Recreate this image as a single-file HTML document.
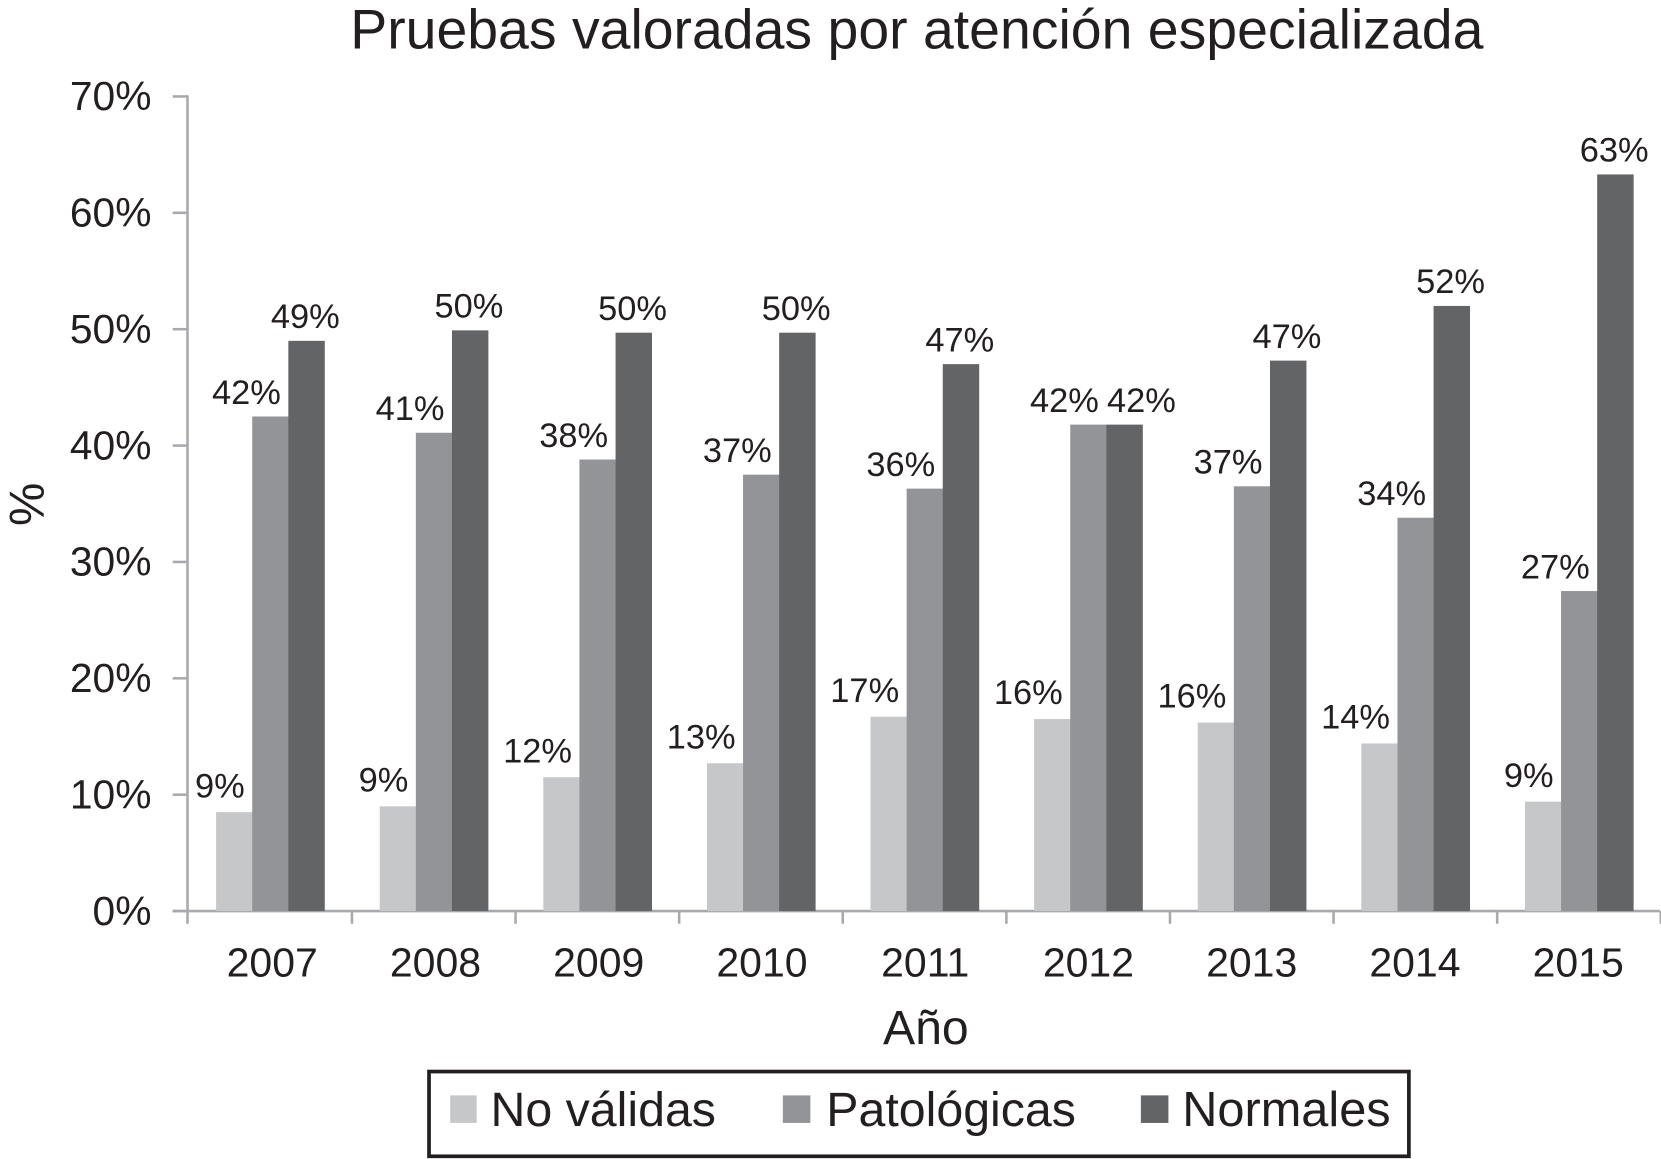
<!DOCTYPE html>
<html lang="es">
<head>
<meta charset="utf-8">
<title>Pruebas valoradas por atención especializada</title>
<style>
  html, body { margin: 0; padding: 0; background: #fff; }
  svg { display: block; }
  text { font-family: "Liberation Sans", Arial, sans-serif; fill: #231f20; }
</style>
</head>
<body>
<svg id="chart" xmlns="http://www.w3.org/2000/svg" width="1661" height="1159" viewBox="0 0 1568 1094">
  <text x="865.5" y="45.5" font-size="52.3" text-anchor="middle">Pruebas valoradas por atención especializada</text>
  <text transform="translate(41 476) rotate(-90)" font-size="46" text-anchor="middle">%</text>
  <text x="874" y="985.5" font-size="45.5" text-anchor="middle">Año</text>
  <g id="axes"></g>
  <g id="bars"></g>
  <g id="labels"></g>
  <g>
    <rect x="405" y="1011.5" width="925" height="80" fill="#fff" stroke="#231f20" stroke-width="3.5"/>
    <rect x="425" y="1034" width="25" height="26" fill="#c5c7c9"/>
    <text x="463" y="1063" font-size="45.6">No válidas</text>
    <rect x="739" y="1034" width="26" height="26" fill="#929497"/>
    <text x="780" y="1063" font-size="45.6">Patológicas</text>
    <rect x="1077" y="1034" width="26" height="26" fill="#636466"/>
    <text x="1116" y="1063" font-size="46">Normales</text>
  </g>
</svg>
<script>
const years = ['2007', '2008', '2009', '2010', '2011', '2012', '2013', '2014', '2015'];
const yTicks = [0, 10, 20, 30, 40, 50, 60, 70];
const noValidas = [8.5, 9.0, 11.5, 12.7, 16.7, 16.5, 16.2, 14.4, 9.4];
const patologicas = [42.5, 41.1, 38.8, 37.5, 36.3, 41.8, 36.5, 33.8, 27.5];
const normales = [49.0, 49.9, 49.7, 49.7, 47.0, 41.8, 47.3, 52.0, 63.3];
const noValidasLabels = ['9%', '9%', '12%', '13%', '17%', '16%', '16%', '14%', '9%'];
const patologicasLabels = ['42%', '41%', '38%', '37%', '36%', '42%', '37%', '34%', '27%'];
const normalesLabels = ['49%', '50%', '50%', '50%', '47%', '42%', '47%', '52%', '63%'];

const NS = 'http://www.w3.org/2000/svg';
const plotLeft = 177, plotRight = 1567, plotBase = 860, plotTop = 91, yMax = 70;
const band = (plotRight - plotLeft) / years.length;
const barWidth = 34.1, barInset = 27.0;
const yearLabelStart = 257, yearLabelStep = 154.1;

function yScale(v) { return plotBase - (v / yMax) * (plotBase - plotTop); }
function xBand(i) { return plotLeft + i * band; }
function xBar(i, s) { return xBand(i) + barInset + s * barWidth; }

function make(parent, tag, attrs) {
  const el = document.createElementNS(NS, tag);
  for (const k in attrs) el.setAttribute(k, attrs[k]);
  parent.appendChild(el);
  return el;
}

const axes = document.getElementById('axes');
const barsG = document.getElementById('bars');
const labelsG = document.getElementById('labels');
const axisStyle = { stroke: '#a7a9ac', 'stroke-width': 2.4, fill: 'none' };

const yAxis = make(axes, 'line', Object.assign({ x1: plotLeft, x2: plotLeft, y1: plotTop - 1, y2: plotBase + 12 }, axisStyle));


const xAxis = make(axes, 'line', Object.assign({ x1: plotLeft - 14, x2: plotRight, y1: plotBase, y2: plotBase }, axisStyle));



yTicks.forEach(function (t) {
  const y = yScale(t);
  const tick = make(axes, 'line', Object.assign({ x1: plotLeft - 14, x2: plotLeft, y1: y, y2: y }, axisStyle));
  
  
  const lab = make(axes, 'text', { x: 143, y: y + 13, 'font-size': 38.5, 'text-anchor': 'end' });
  
  
  lab.textContent = t + '%';
});

years.forEach(function (yr, i) {
  const tick = make(axes, 'line', Object.assign({ x1: xBand(i + 1) + 0.8, x2: xBand(i + 1) + 0.8, y1: plotBase, y2: plotBase + 12 }, axisStyle));
  
  
  const lab = make(axes, 'text', { x: yearLabelStart + i * yearLabelStep, y: 922, 'font-size': 38.7, 'text-anchor': 'middle' });
  
  
  lab.textContent = yr;
});

const seriesValues = [noValidas, patologicas, normales];
const seriesLabels = [noValidasLabels, patologicasLabels, normalesLabels];
const seriesColors = ['#c5c7c9', '#929497', '#636466'];
const seriesKeys = ['no-validas', 'patologicas', 'normales'];

seriesValues.forEach(function (vals, s) {
  vals.forEach(function (v, i) {
    const top = yScale(v);
    const bar = make(barsG, 'rect', { x: xBar(i, s), y: top, width: barWidth + 0.3, height: plotBase - top, fill: seriesColors[s] });
    
    

    const center = xBar(i, s) + barWidth / 2;
    const attrs = { 'font-size': 32.5 };
    if (s === 2) {
      // Normales labels sit over the bar, pushed clear when tied with Patológicas.
      const tied = Math.abs(normales[i] - patologicas[i]) < 3;
      attrs.x = center + (tied ? 16 : -1);
      attrs.y = top - 12;
      attrs['text-anchor'] = 'middle';
    } else {
      attrs.x = center + 10;
      attrs.y = top - (s === 0 ? 14 : 12);
      attrs['text-anchor'] = 'end';
    }
    const lab = make(labelsG, 'text', attrs);
    
    
    lab.setAttribute('data-series', seriesKeys[s]);
    lab.textContent = seriesLabels[s][i];
  });
});
</script>
</body>
</html>
